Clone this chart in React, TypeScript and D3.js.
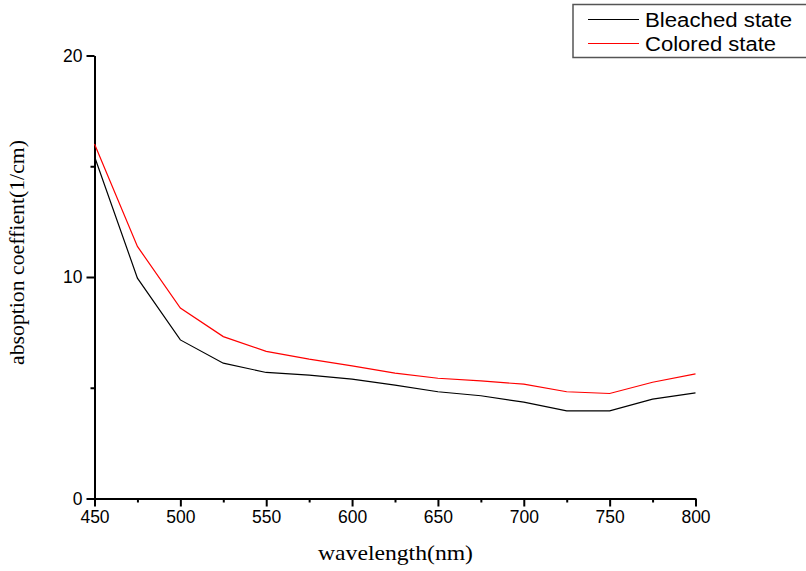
import React, { useEffect, useRef } from 'react';
import * as d3 from 'd3';

const wavelengths = [450, 475, 500, 525, 550, 575, 600, 625, 650, 675, 700, 725, 750, 775, 800];
const bleached = [15.44, 9.95, 7.16, 6.11, 5.69, 5.57, 5.39, 5.12, 4.82, 4.64, 4.35, 3.96, 3.96, 4.49, 4.77];
const colored = [16.0, 11.38, 8.6, 7.31, 6.64, 6.29, 5.99, 5.66, 5.43, 5.31, 5.16, 4.82, 4.74, 5.25, 5.63];
const seriesNames = ['Bleached state', 'Colored state'];
const seriesColors = ['#000000', '#ff0000'];
const xTicks = [450, 500, 550, 600, 650, 700, 750, 800];
const yTicks = [0, 10, 20];

const App = () => {
  const ref = useRef<SVGSVGElement>(null);

  useEffect(() => {
    const svg = d3.select(ref.current);
    svg.selectAll('*').remove();

    const left = 94.5;
    const right = 695.5;
    const top = 55.5;
    const bottom = 498.5;

    const xScale = d3.scaleLinear().domain([450, 800]).range([left, right]);
    const yScale = d3.scaleLinear().domain([0, 20]).range([bottom, top]);

    // minor ticks
    svg.append('g')
      .attr('transform', `translate(0,${bottom})`)
      .call(d3.axisBottom(xScale).tickValues(d3.range(475, 800, 50)).tickSize(4).tickFormat(() => ''))
      .call(g => g.select('.domain').remove())
      .selectAll('line').attr('stroke-width', 2);
    svg.append('g')
      .attr('transform', `translate(${left},0)`)
      .call(d3.axisLeft(yScale).tickValues([5, 15]).tickSize(4).tickFormat(() => ''))
      .call(g => g.select('.domain').remove())
      .selectAll('line').attr('stroke-width', 2);

    const xAxis = svg.append('g')
      .attr('transform', `translate(0,${bottom})`)
      .call(d3.axisBottom(xScale).tickValues(xTicks).tickSize(8).tickSizeOuter(0).tickPadding(4));
    const yAxis = svg.append('g')
      .attr('transform', `translate(${left},0)`)
      .call(d3.axisLeft(yScale).tickValues(yTicks).tickSize(8).tickSizeOuter(0).tickPadding(4));

    [xAxis, yAxis].forEach(g => {
      g.select('.domain').attr('stroke-width', 2);
      g.selectAll('line').attr('stroke-width', 2);
      g.selectAll('text')
        .attr('font-family', '"Liberation Sans", Arial, sans-serif')
        .attr('font-size', 17.5)
        .attr('fill', '#000');
    });

    const line = d3.line<number>()
      .x((d, i) => xScale(wavelengths[i]))
      .y(d => yScale(d));

    [bleached, colored].forEach((s, i) => {
      svg.append('path')
        .datum(s)
        .attr('fill', 'none')
        .attr('stroke', seriesColors[i])
        .attr('stroke-width', 1.2)
        .attr('d', line);
    });

    svg.append('text')
      .attr('x', 318)
      .attr('y', 560)
      .attr('textLength', 155)
      .attr('lengthAdjust', 'spacingAndGlyphs')
      .attr('font-family', '"Liberation Serif", "Times New Roman", serif')
      .attr('font-size', 22)
      .text('wavelength(nm)');

    svg.append('text')
      .attr('transform', `translate(24,365) rotate(-90)`)
      .attr('textLength', 225)
      .attr('lengthAdjust', 'spacingAndGlyphs')
      .attr('font-family', '"Liberation Serif", "Times New Roman", serif')
      .attr('font-size', 20)
      .text('absoption coeffient(1/cm)');

    // legend
    const legend = svg.append('g');
    legend.append('rect')
      .attr('x', 573)
      .attr('y', 4.5)
      .attr('width', 240)
      .attr('height', 53)
      .attr('fill', '#fff')
      .attr('stroke', '#555')
      .attr('stroke-width', 1.5);
    seriesNames.forEach((name, i) => {
      const yy = 19.5 + i * 24;
      legend.append('line')
        .attr('x1', 588).attr('x2', 639)
        .attr('y1', yy).attr('y2', yy)
        .attr('stroke', seriesColors[i])
        .attr('stroke-width', 1.2);
      legend.append('text')
        .attr('x', 645)
        .attr('y', yy + 7)
        .attr('textLength', i === 0 ? 147 : 131)
        .attr('lengthAdjust', 'spacingAndGlyphs')
        .attr('font-family', '"Liberation Sans", Arial, sans-serif')
        .attr('font-size', 19.5)
        .text(name);
    });
  }, []);

  return (
    <svg ref={ref} width={806} height={571}
      style={{ position: 'absolute', left: 0, top: 0, background: '#fff' }} />
  );
};

export default App;
